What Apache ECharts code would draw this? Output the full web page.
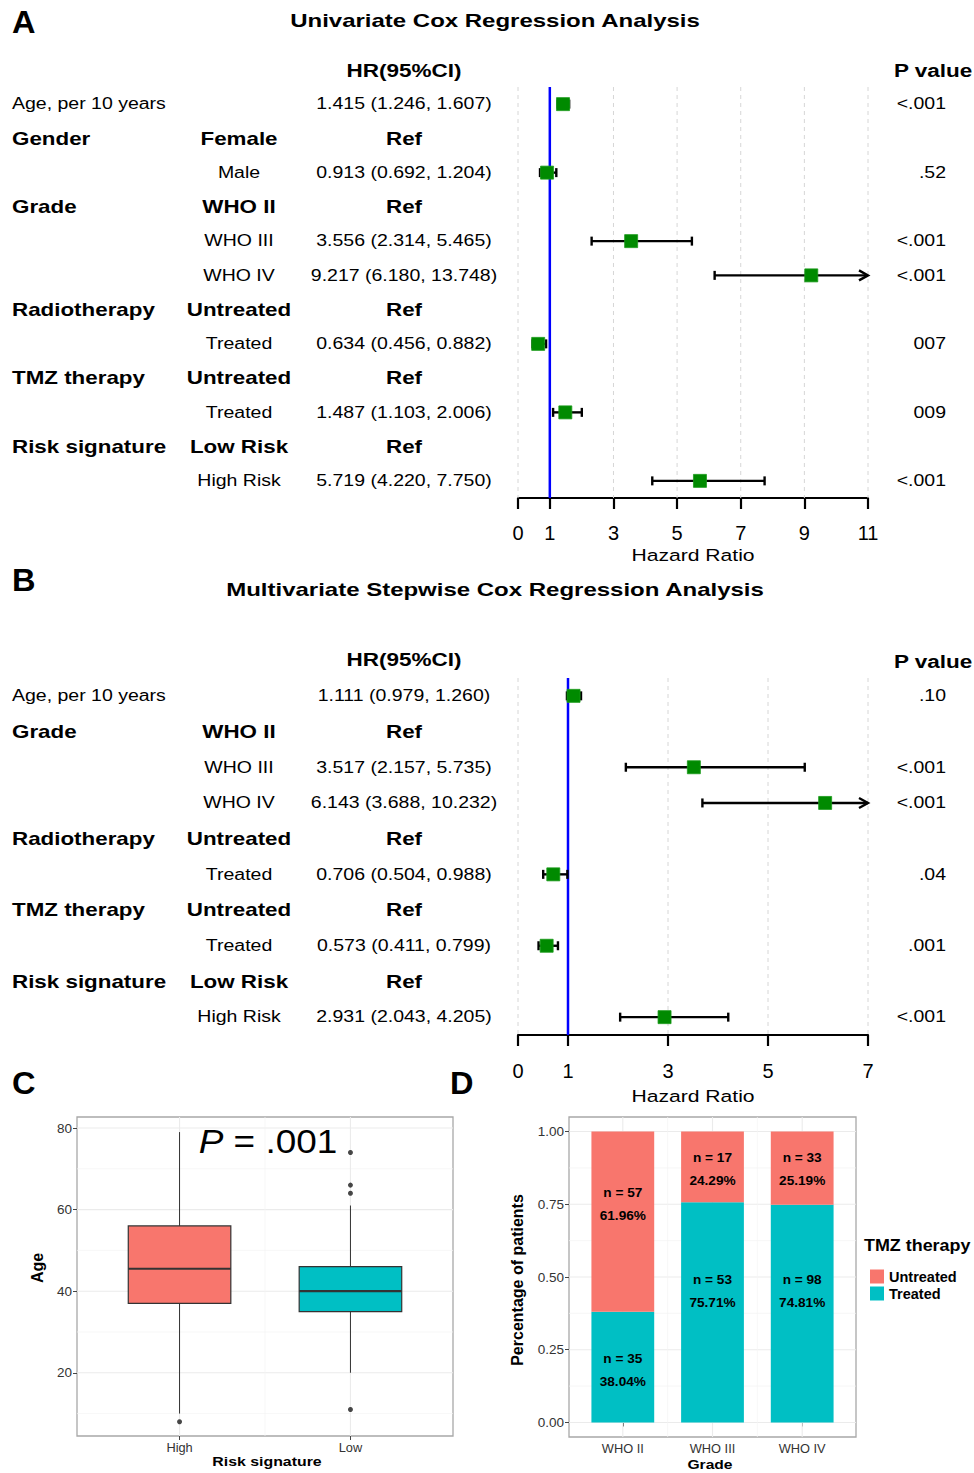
<!DOCTYPE html>
<html><head><meta charset="utf-8">
<script src="https://cdn.jsdelivr.net/npm/echarts@6/dist/echarts.min.js"></script>
<style>html,body{margin:0;padding:0;background:#fff}#c{width:974px;height:1473px}</style>
</head><body><div id="c"></div><script>
// ===================== DATA =====================
// Panel A: Univariate Cox regression
const aVariable = ['Age, per 10 years','Gender','','Grade','','','Radiotherapy','','TMZ therapy','','Risk signature',''];
const aLevel    = ['','Female','Male','WHO II','WHO III','WHO IV','Untreated','Treated','Untreated','Treated','Low Risk','High Risk'];
const aHR    = [1.415,null,0.913,null,3.556,9.217,null,0.634,null,1.487,null,5.719];
const aLower = [1.246,null,0.692,null,2.314,6.180,null,0.456,null,1.103,null,4.220];
const aUpper = [1.607,null,1.204,null,5.465,13.748,null,0.882,null,2.006,null,7.750];
const aP     = ['<.001','','.52','','<.001','<.001','','007','','009','','<.001'];
const aTicks = [0,1,3,5,7,9,11];

// Panel B: Multivariate stepwise Cox regression
const bVariable = ['Age, per 10 years','Grade','','','Radiotherapy','','TMZ therapy','','Risk signature',''];
const bLevel    = ['','WHO II','WHO III','WHO IV','Untreated','Treated','Untreated','Treated','Low Risk','High Risk'];
const bHR    = [1.111,null,3.517,6.143,null,0.706,null,0.573,null,2.931];
const bLower = [0.979,null,2.157,3.688,null,0.504,null,0.411,null,2.043];
const bUpper = [1.260,null,5.735,10.232,null,0.988,null,0.799,null,4.205];
const bP     = ['.10','','<.001','<.001','','.04','','.001','','<.001'];
const bTicks = [0,1,3,5,7];

// Panel C: Age by risk signature (box plot)
const cGroups   = ['High','Low'];
const cBox      = [[10,37,45.5,56,79],[20,35,40,46,61]]; // lower whisker, Q1, median, Q3, upper whisker
const cOutliers = [[8],[74,66,64,11]];
const cTicks    = [20,40,60,80];
const cMinor    = [10,30,50,70];

// Panel D: TMZ therapy by grade
const dGrades    = ['WHO II','WHO III','WHO IV'];
const dTreated   = [35,53,98];
const dUntreated = [57,17,33];
const dTicks     = [0,0.25,0.5,0.75,1];
const dMinor     = [0.125,0.375,0.625,0.875];

// ===================== STYLE / LAYOUT =====================
const FF = "'Liberation Sans', Arial, Helvetica, sans-serif";
const SX = 1.25;           // horizontal text stretch of the figure
const NORM = 15.6, BOLD = 17.9;
const COL1 = 12, COL2 = 239, COL3 = 404, COLP = 946;
const cColors = ['#F8766D','#00BFC4'];
const dLabelY = {Treated:[0.18,0.45,0.45], Untreated:[0.75,0.87,0.872]}; // label anchors (data units)

function txt(x, y, text, size, opt) {
  opt = opt || {};
  const al = opt.align || 'left';
  const st = {x:0, y:0, text:text, fontSize:size, fontWeight:opt.bold?'bold':'normal',
    fontStyle:opt.italic?'italic':'normal', fontFamily:FF, fill:opt.color||'#000',
    align:al, textAlign:al, verticalAlign:'middle', textVerticalAlign:'middle'};
  if (opt.rich) st.rich = opt.rich;
  return {type:'text', x:x, y:y, scaleX:(opt.sx!=null?opt.sx:SX), rotation:opt.rot||0, silent:true, z:10, style:st};
}

function tableSeries(gi, vars, levels, hr, lo, hi, pv) {
  return {
    type:'custom', xAxisIndex:gi, yAxisIndex:gi, clip:false, silent:true, z:5,
    data: vars.map((_, i) => [0, i]), encode:{x:0, y:1},
    renderItem(params, api) {
      const i = api.value(1);
      const y = api.coord([0, i])[1];
      const ref = hr[i] == null;
      const ch = [];
      if (vars[i]) ch.push(txt(COL1, y, vars[i], ref?BOLD:NORM, {bold:ref}));
      if (levels[i]) ch.push(txt(COL2, y, levels[i], ref?BOLD:NORM, {bold:ref, align:'center'}));
      const s = ref ? 'Ref' : hr[i].toFixed(3) + ' (' + lo[i].toFixed(3) + ', ' + hi[i].toFixed(3) + ')';
      ch.push(txt(COL3, y, s, ref?BOLD:NORM, {bold:ref, align:'center'}));
      if (pv[i]) ch.push(txt(COLP, y, pv[i], NORM, {align:'right'}));
      return {type:'group', children:ch};
    }
  };
}

function forestSeries(gi, hr, lo, hi, xmax) {
  const data = [];
  hr.forEach((h, i) => { if (h != null) data.push([h, lo[i], hi[i], i]); });
  return {
    type:'custom', xAxisIndex:gi, yAxisIndex:gi, z:4, silent:true, clip:false,
    data:data, encode:{x:[0,1,2], y:3},
    renderItem(params, api) {
      const i = api.value(3);
      const c = api.coord([api.value(0), i]);
      const l = api.coord([api.value(1), i]);
      const clipped = api.value(2) > xmax;
      const r = api.coord([Math.min(api.value(2), xmax), i]);
      const y = c[1];
      const st = {stroke:'#000', lineWidth:2.4, fill:'none'};
      const ch = [
        {type:'line', shape:{x1:l[0], y1:y, x2:r[0], y2:y}, style:st},
        {type:'line', shape:{x1:l[0], y1:y-4.5, x2:l[0], y2:y+4.5}, style:st}
      ];
      if (clipped) ch.push({type:'polyline', shape:{points:[[r[0]-9,y-5],[r[0],y],[r[0]-9,y+5]]}, style:st});
      else ch.push({type:'line', shape:{x1:r[0], y1:y-4.5, x2:r[0], y2:y+4.5}, style:st});
      ch.push({type:'rect', shape:{x:c[0]-6.5, y:y-6.5, width:13, height:13}, style:{fill:'#008a00', stroke:'#1a9a1a', lineWidth:0.8}});
      return {type:'group', children:ch};
    }
  };
}

function vLines(gi, values, yDummy, style, z) {
  return {
    type:'custom', xAxisIndex:gi, yAxisIndex:gi, z:z, silent:true, clip:false,
    data: values.map(v => [v, yDummy]), encode:{x:0, y:1},
    renderItem(params, api) {
      const cs = params.coordSys;
      const x = api.coord([api.value(0), yDummy])[0];
      return {type:'line', shape:{x1:x, y1:cs.y, x2:x, y2:cs.y+cs.height}, style:Object.assign({fill:'none'}, style)};
    }
  };
}
function hLines(gi, values, xDummy, style, z) {
  return {
    type:'custom', xAxisIndex:gi, yAxisIndex:gi, z:z, silent:true, clip:false,
    data: values.map(v => [xDummy, v]), encode:{x:0, y:1},
    renderItem(params, api) {
      const cs = params.coordSys;
      const y = api.coord([xDummy, api.value(1)])[1];
      return {type:'line', shape:{x1:cs.x, y1:y, x2:cs.x+cs.width, y2:y}, style:Object.assign({fill:'none'}, style)};
    }
  };
}

const dash = {stroke:'#d6d6d6', lineWidth:1, lineDash:[4,4]};
const major = {stroke:'#ebebeb', lineWidth:1.1};
const minor = {stroke:'#f4f4f4', lineWidth:0.7};

function forestXAxis(gi, max, ticks, margin) {
  return {
    gridIndex:gi, type:'value', min:0, max:max,
    axisLine:{show:true, onZero:false, lineStyle:{color:'#000', width:2.2}},
    axisTick:{show:true, customValues:ticks, length:11, lineStyle:{color:'#000', width:2.2}},
    axisLabel:{show:true, customValues:ticks, fontSize:20, color:'#000', margin:margin, fontFamily:FF},
    splitLine:{show:false}
  };
}
function catYAxis(gi, n) {
  return {gridIndex:gi, type:'category', data:Array.from({length:n}, (_, i) => String(i)), inverse:true, show:false};
}

// ---- panel D series ----
function dSeries(name, color, isTreated) {
  const data = dGrades.map((g, i) => {
    const tot = dTreated[i] + dUntreated[i];
    const ft = dTreated[i] / tot;
    const n = isTreated ? dTreated[i] : dUntreated[i];
    return isTreated ? [i+1, 0, ft, n, tot] : [i+1, ft, 1, n, tot];
  });
  const anchors = dLabelY[name];
  return {
    name:name, type:'custom', xAxisIndex:3, yAxisIndex:3, z:3, silent:true, clip:false,
    itemStyle:{color:color}, data:data, encode:{x:0, y:[1,2]},
    renderItem(params, api) {
      const x = api.value(0), y0 = api.value(1), y1 = api.value(2);
      const n = api.value(3), tot = api.value(4);
      const p0 = api.coord([x-0.35, y1]);
      const p1 = api.coord([x+0.35, y0]);
      const a = api.coord([x, anchors[params.dataIndex]]);
      return {type:'group', children:[
        {type:'rect', shape:{x:p0[0], y:p0[1], width:p1[0]-p0[0], height:p1[1]-p0[1]}, style:{fill:color}},
        txt(a[0], a[1]-11.5, 'n = ' + n, 12.4, {bold:true, align:'center', sx:1.1}),
        txt(a[0], a[1]+11.5, (n / tot * 100).toFixed(2) + '%', 12.4, {bold:true, align:'center', sx:1.1})
      ]};
    }
  };
}

const option = {
  backgroundColor:'#fff',
  animation:false,
  grid:[
    {left:518, top:87, width:350, height:411, outerBoundsMode:'none'},
    {left:518, top:678, width:350, height:357, outerBoundsMode:'none'},
    {left:77, top:1117, width:376, height:319, show:true, borderColor:'#a8a8a8', borderWidth:1.3, backgroundColor:'transparent', outerBoundsMode:'none'},
    {left:569, top:1117, width:287, height:320, show:true, borderColor:'#a8a8a8', borderWidth:1.3, backgroundColor:'transparent', outerBoundsMode:'none'}
  ],
  xAxis:[
    forestXAxis(0, 11, aTicks, 25),
    forestXAxis(1, 7, bTicks, 26),
    {gridIndex:2, type:'value', min:0.4, max:2.6, axisLine:{show:false},
      axisTick:{show:true, customValues:[1,2], length:4, lineStyle:{color:'#444'}},
      axisLabel:{customValues:[1,2], formatter:v => cGroups[Math.round(v)-1], fontSize:12.8, color:'#333', margin:5, fontFamily:FF},
      splitLine:{show:false}},
    {gridIndex:3, type:'value', min:0.4, max:3.6, axisLine:{show:false},
      axisTick:{show:true, customValues:[1,2,3], length:4, lineStyle:{color:'#444'}},
      axisLabel:{customValues:[1,2,3], formatter:v => dGrades[Math.round(v)-1], fontSize:12.8, color:'#333', margin:5, fontFamily:FF},
      splitLine:{show:false}}
  ],
  yAxis:[
    catYAxis(0, aVariable.length),
    catYAxis(1, bVariable.length),
    {gridIndex:2, type:'value', min:4.5, max:82.7, axisLine:{show:false},
      axisTick:{show:true, customValues:cTicks, length:4, lineStyle:{color:'#444'}},
      axisLabel:{customValues:cTicks, fontSize:13.5, color:'#333', margin:5, fontFamily:FF},
      splitLine:{show:false}},
    {gridIndex:3, type:'value', min:-0.05, max:1.05, axisLine:{show:false},
      axisTick:{show:true, customValues:dTicks, length:4, lineStyle:{color:'#444'}},
      axisLabel:{customValues:dTicks, formatter:v => v.toFixed(2), fontSize:13.5, color:'#333', margin:5, fontFamily:FF},
      splitLine:{show:false}}
  ],
  legend:{
    data:['Untreated','Treated'], orient:'vertical', left:870, top:1269, padding:0,
    itemWidth:14, itemHeight:14, itemGap:2, icon:'rect', selectedMode:false,
    textStyle:{fontSize:14.5, fontWeight:'bold', fontFamily:FF, color:'#000'}
  },
  series:[
    // Panel A
    vLines(0, aTicks.filter(t => t !== 1), 0, dash, 1),
    vLines(0, [1], 0, {stroke:'#0000ff', lineWidth:2.5}, 3),
    forestSeries(0, aHR, aLower, aUpper, 11),
    tableSeries(0, aVariable, aLevel, aHR, aLower, aUpper, aP),
    // Panel B
    vLines(1, bTicks.filter(t => t !== 1), 0, dash, 1),
    vLines(1, [1], 0, {stroke:'#0000ff', lineWidth:2.5}, 3),
    forestSeries(1, bHR, bLower, bUpper, 7),
    tableSeries(1, bVariable, bLevel, bHR, bLower, bUpper, bP),
    // Panel C
    hLines(2, cMinor, 1, minor, 1),
    hLines(2, cTicks, 1, major, 1),
    vLines(2, [1.5], 40, minor, 1),
    vLines(2, [1,2], 40, major, 1),
    {type:'custom', xAxisIndex:2, yAxisIndex:2, z:3, silent:true,
      data:cBox.map((b, i) => [i+1].concat(b)), encode:{x:0, y:[1,2,3,4,5]},
      renderItem(params, api) {
        const x = api.value(0);
        const lo = api.coord([x, api.value(1)]), q1 = api.coord([x, api.value(2)]),
              md = api.coord([x, api.value(3)]), q3 = api.coord([x, api.value(4)]),
              hi = api.coord([x, api.value(5)]);
        const L = api.coord([x-0.3, api.value(3)])[0], R = api.coord([x+0.3, api.value(3)])[0];
        const ln = {stroke:'#333', lineWidth:1, fill:'none'};
        return {type:'group', children:[
          {type:'line', shape:{x1:lo[0], y1:lo[1], x2:q1[0], y2:q1[1]}, style:ln},
          {type:'line', shape:{x1:q3[0], y1:q3[1], x2:hi[0], y2:hi[1]}, style:ln},
          {type:'rect', shape:{x:L, y:q3[1], width:R-L, height:q1[1]-q3[1]}, style:{fill:cColors[params.dataIndex], stroke:'#333', lineWidth:1.2}},
          {type:'line', shape:{x1:L, y1:md[1], x2:R, y2:md[1]}, style:{stroke:'#333', lineWidth:2.2, fill:'none'}}
        ]};
      }},
    {type:'scatter', xAxisIndex:2, yAxisIndex:2, z:4, silent:true, symbolSize:5,
      itemStyle:{color:'#1a1a1a'},
      data:cOutliers.flatMap((arr, i) => arr.map(v => [i+1, v]))},
    // Panel D
    hLines(3, dMinor, 1, minor, 1),
    hLines(3, dTicks, 1, major, 1),
    vLines(3, [1.5, 2.5], 0.5, minor, 1),
    vLines(3, [1,2,3], 0.5, major, 1),
    dSeries('Treated', '#00BFC4', true),
    dSeries('Untreated', '#F8766D', false)
  ],
  graphic:{elements:[
    txt(12, 22, 'A', 31, {bold:true, sx:1.05}),
    txt(495, 20, 'Univariate Cox Regression Analysis', 19.2, {bold:true, align:'center'}),
    txt(COL3, 71, 'HR(95%CI)', 18, {bold:true, align:'center'}),
    txt(894, 71, 'P value', 18, {bold:true}),
    txt(693, 555, 'Hazard Ratio', 16.9, {align:'center'}),
    txt(12, 580, 'B', 31, {bold:true, sx:1.05}),
    txt(495, 589, 'Multivariate Stepwise Cox Regression Analysis', 19.2, {bold:true, align:'center'}),
    txt(COL3, 660, 'HR(95%CI)', 18, {bold:true, align:'center'}),
    txt(894, 662, 'P value', 18, {bold:true}),
    txt(693, 1096, 'Hazard Ratio', 16.9, {align:'center'}),
    txt(12, 1083, 'C', 31, {bold:true, sx:1.05}),
    txt(450, 1083, 'D', 31, {bold:true, sx:1.05}),
    txt(268, 1141, '{i|P} = .001', 33, {align:'center', sx:1.12, rich:{i:{fontStyle:'italic', fontSize:33, fontFamily:FF, fill:'#000'}}}),
    txt(37, 1268, 'Age', 16, {bold:true, align:'center', sx:1, rot:Math.PI/2}),
    txt(267, 1462, 'Risk signature', 12.7, {bold:true, align:'center'}),
    txt(517, 1280, 'Percentage of patients', 16, {bold:true, align:'center', sx:1, rot:Math.PI/2}),
    txt(710, 1465, 'Grade', 12.5, {bold:true, align:'center'}),
    txt(864, 1246, 'TMZ therapy', 16, {bold:true, sx:1.12})
  ]}
};

const chart = echarts.init(document.getElementById('c'), null, {renderer:'svg', width:974, height:1473});
chart.setOption(option);
</script></body></html>
